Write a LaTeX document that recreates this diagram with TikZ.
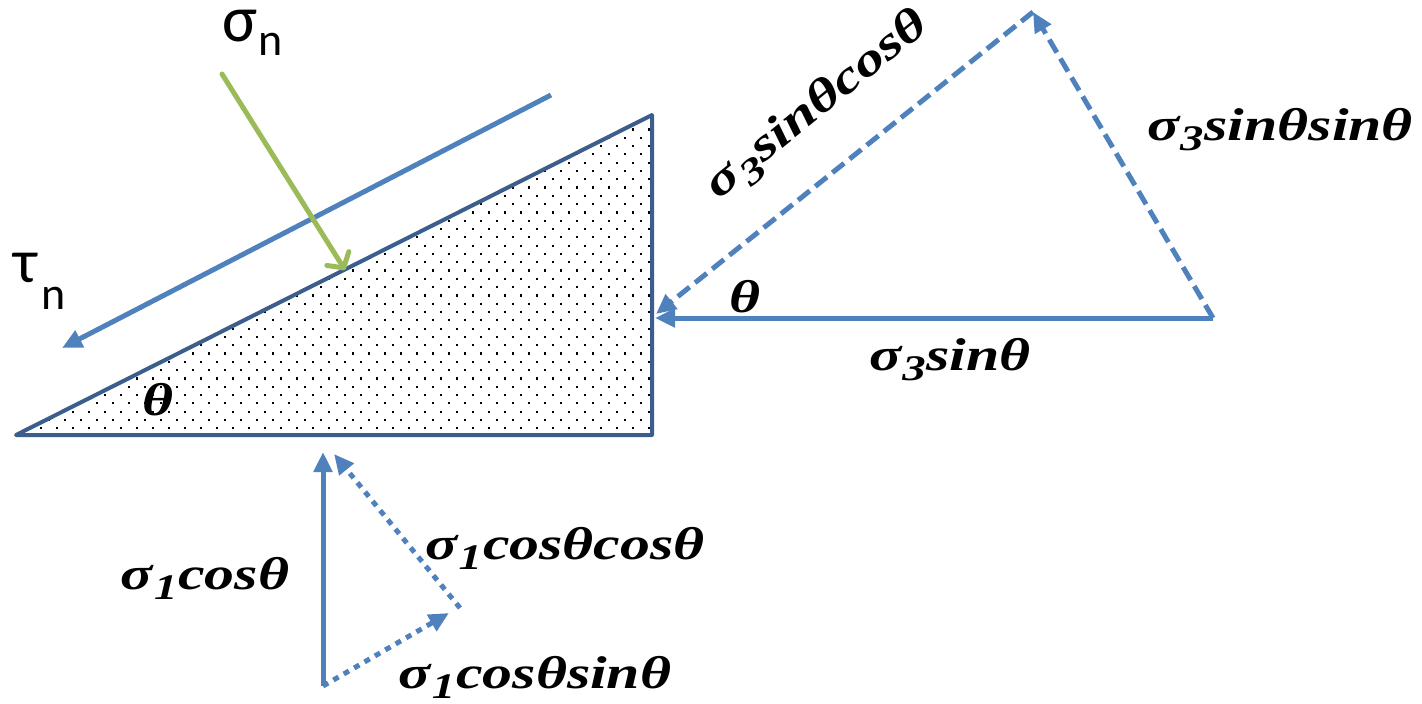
\documentclass[tikz,border=0pt]{standalone}
\usepackage{fontspec}
\setmainfont{Liberation Serif}
\newfontfamily\calib{Carlito}
\newfontfamily\mf[FakeStretch=1.3]{Liberation Serif}
\newcommand\sbs[1]{\kern1pt\raisebox{-10pt}{\fontsize{36}{38}\selectfont #1}\kern1pt}
\usetikzlibrary{arrows.meta}
\definecolor{oblue}{HTML}{4F81BD}
\definecolor{dblue}{HTML}{3B5E8C}
\definecolor{ogreen}{HTML}{9BBB59}
\tikzset{
  lab/.style={inner sep=0pt, font=\mf\bfseries\itshape\fontsize{46}{50}\selectfont},
  vec/.style={draw=oblue, line width=5pt, -{Triangle[length=20pt,width=18pt]}},
  dashvec/.style={vec, dash pattern=on 15pt off 7pt},
  dotvec/.style={vec, dash pattern=on 6pt off 6pt},
  greek/.style={inner sep=0pt, font=\calib}
}
\begin{document}
\begin{tikzpicture}[x=1pt,y=-1pt]
\path[use as bounding box] (0,0) rectangle (1422,704);
% wedge
\coordinate (A) at (16,435);
\coordinate (B) at (652,435);
\coordinate (C) at (652,115);
\begin{scope}
\clip (A) -- (B) -- (C) -- cycle;
\foreach \j in {0,...,40} {
  \pgfmathsetmacro{\off}{mod(\j,2)*8}
  \foreach \i in {0,...,41} {
    \fill (16+\i*16+\off, 120+\j*8.3) rectangle +(2.2,2.2);
  }
}
\end{scope}
\draw[dblue, line width=4pt, line join=round, line cap=round] (A) -- (B) -- (C) -- cycle;
% tau
\coordinate (t0) at (551,95);
\coordinate (t1) at (62,348);
\draw[vec] (t0) -- (t1);
% sigma n
\coordinate (s0) at (222,74);
\coordinate (s1) at (345,270);
\draw[ogreen, line width=5pt, line cap=round, -{Straight Barb[length=11pt,width=26pt,line width=5pt,round]}] (s0) -- (s1);
\node[greek, font=\calib\fontsize{66}{70}\selectfont] (sg) at (240,26) {σ};
\node[greek, font=\calib\fontsize{46}{50}\selectfont] (sgn) at (271,44) {n};
\node[greek, font=\calib\fontsize{62}{66}\selectfont] (tau) at (26,268) {τ};
\node[greek, font=\calib\fontsize{46}{50}\selectfont] (taun) at (54,298) {n};
\node[lab] (th1) at (158,400) {θ};
% sigma 3 triangle
\coordinate (P1) at (1213,318);
\coordinate (P2) at (1033,12);
\coordinate (P0) at (655,318);
\coordinate (P0b) at (656,314);
\draw[vec] (P1) -- (P0);
\draw[dashvec] (P1) -- (P2);
\draw[dashvec] (P2) -- (P0b);
\node[lab] (th2) at (745,297) {θ};
\node[lab] (l3) at (950,360) {σ\sbs{3}sinθ};
\node[lab] (l3ss) at (1280,130) {σ\sbs{3}sinθsinθ};
\node[lab, rotate=39] (l3sc) at (818,106) {σ\sbs{3}sinθcosθ};
% sigma 1 triangle
\coordinate (Q0) at (323,686);
\coordinate (Q1) at (323,452);
\coordinate (Q2) at (460,608);
\coordinate (Q2b) at (449,613);
\coordinate (Q1b) at (334,454);
\draw[vec] (Q0) -- (Q1);
\draw[dotvec] (Q0) -- (Q2b);
\draw[dotvec] (Q2) -- (Q1b);
\node[lab] (l1) at (205,578) {σ\sbs{1}cosθ};
\node[lab] (l1cc) at (565,548) {σ\sbs{1}cosθcosθ};
\node[lab] (l1cs) at (535,677) {σ\sbs{1}cosθsinθ};
\end{tikzpicture}
\end{document}
